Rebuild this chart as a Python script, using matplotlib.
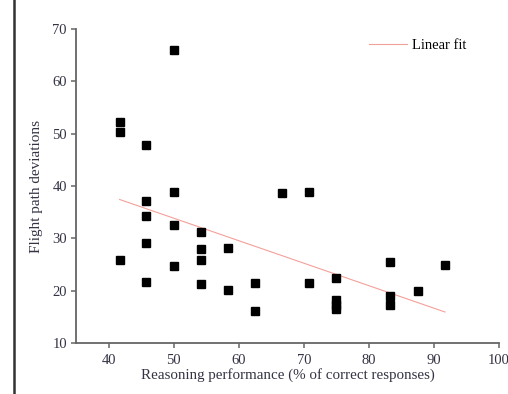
import matplotlib
matplotlib.use("Agg")
import matplotlib.pyplot as plt
import numpy as np

plt.rcParams['font.family'] = ['Liberation Serif', 'DejaVu Serif']

# reasoning score (% correct) and flight path deviation per pilot
reasoning = [41.7, 41.7, 41.7,
             45.8, 45.8, 45.8, 45.8, 45.8,
             50, 50, 50, 50,
             54.2, 54.2, 54.2, 54.2,
             58.3, 58.3,
             62.5, 62.5,
             66.7,
             70.8, 70.8,
             75, 75, 75, 75,
             83.3, 83.3, 83.3,
             87.5,
             91.7]
deviation = [52.2, 50.3, 25.8,
             47.9, 37.2, 34.3, 29.1, 21.7,
             65.9, 38.8, 32.5, 24.7,
             31.3, 28.0, 25.9, 21.2,
             28.2, 20.2,
             21.5, 16.1,
             38.7,
             38.9, 21.5,
             22.5, 18.3, 17.3, 16.5,
             25.4, 19.0, 17.2,
             20.0,
             24.9]

x = np.array(reasoning)
y = np.array(deviation)
slope, intercept = np.polyfit(x, y, 1)
xfit = np.array([x.min(), x.max()])

fig = plt.figure(figsize=(5.08, 3.94), dpi=100, facecolor='white')
ax = fig.add_axes([0.1496, 0.1294, 0.8327, 0.7970])

ax.plot(x, y, 's', color='black', ms=5.3, ls='none', zorder=3)
ax.plot(xfit, slope * xfit + intercept, color='#f4a09a', lw=0.8, label='Linear fit')

ax.set_xlim(35, 100)
ax.set_ylim(10, 70)
ax.set_xticks([40, 50, 60, 70, 80, 90, 100])
ax.set_yticks([10, 20, 30, 40, 50, 60, 70])

for side in ['top', 'right']:
    ax.spines[side].set_visible(False)
for side in ['left', 'bottom']:
    ax.spines[side].set_color('#666666')
    ax.spines[side].set_linewidth(1.3)
ax.tick_params(direction='out', length=3.5, width=1.1, color='#666666',
               labelsize=10.5, labelcolor='#333344')
ax.tick_params(axis='x', pad=4.5)
ax.tick_params(axis='y', pad=3)

ax.set_xlabel('Reasoning performance (% of correct responses)', fontsize=10.8,
              color='#333344', labelpad=1)
ax.set_ylabel('Flight path deviations', fontsize=11, color='#333344', labelpad=7)

ax.legend(loc='upper right', frameon=False, fontsize=10.5, handlelength=2.6,
          handletextpad=0.4, bbox_to_anchor=(0.955, 1.01))

# page border on the left
fig.add_artist(plt.Line2D([0.028, 0.028], [0, 1], color='#333333', lw=1.8,
                          transform=fig.transFigure))

fig.savefig('out.png', dpi=100)
